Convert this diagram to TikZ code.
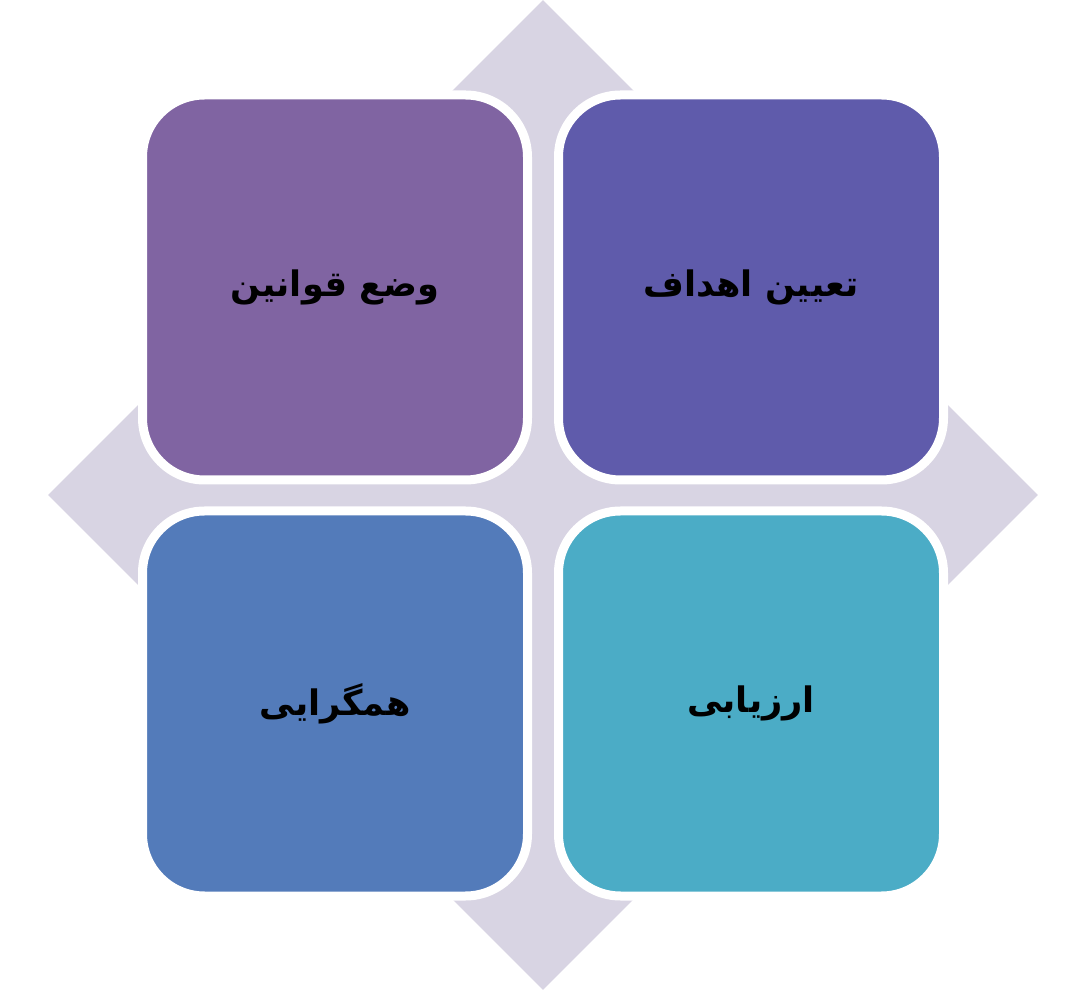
\documentclass[tikz,border=0pt]{standalone}
\usepackage{xcolor}
\usepackage{fontspec}
\usepackage{tikz}
\usetikzlibrary{positioning,shapes,arrows}
\TeXXeTstate=1
\newfontfamily\arabicfont[Script=Arabic]{DejaVu Sans}
\definecolor{crossbg}{HTML}{D8D4E3}
\definecolor{rulesfill}{HTML}{8064A2}
\definecolor{goalsfill}{HTML}{5F5BAB}
\definecolor{mergefill}{HTML}{537BBA}
\definecolor{assessfill}{HTML}{4BACC6}

\begin{document}
\begin{tikzpicture}[node distance=10.4cm, auto, >=stealth,
    tile/.style={draw=white, line width=0.225cm, rectangle, rounded corners=1.55cm, minimum size=9.625cm, inner sep=0pt,
      font=\arabicfont\bfseries\fontsize{25}{31}\selectfont}]
            \useasboundingbox (0,0) rectangle (27.15,-24.75);
            \node[diamond, fill=crossbg, inner sep=0pt, minimum width=24.75cm, minimum height=24.75cm] (cross) at (13.575,-12.375) {};
            \node[tile, fill=rulesfill] (rules) at (8.375,-7.1875) {\beginR وضع قوانین\endR};
            \node[tile, fill=goalsfill, right of=rules] (goals) {\beginR تعیین اهداف\endR};
            \node[tile, fill=mergefill, below of=rules] (merge) {\beginR همگرایی\endR};
            \node[tile, fill=assessfill, below of=goals] (assess) {\beginR ارزیابی\endR};
        \end{tikzpicture}
\end{document}
